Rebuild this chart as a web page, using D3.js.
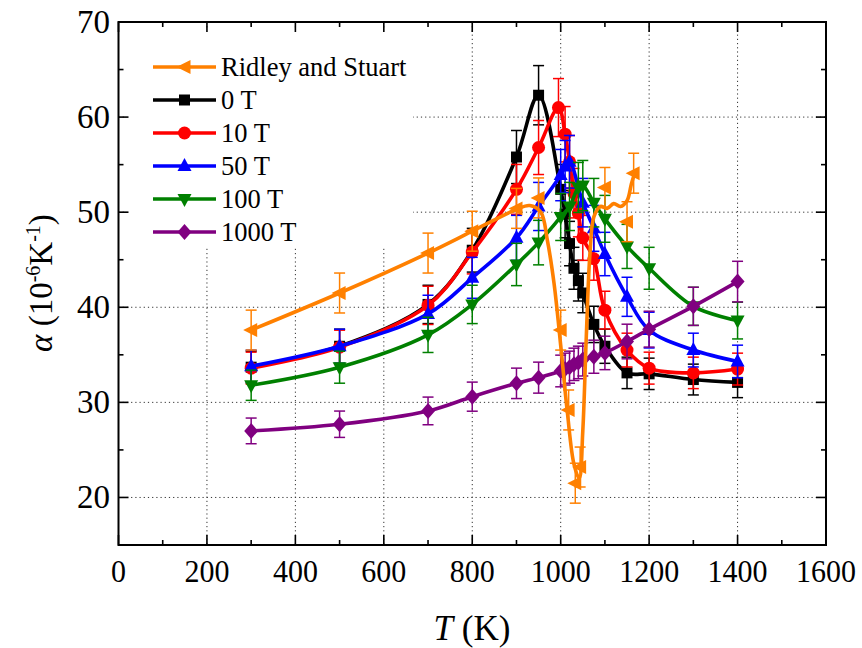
<!DOCTYPE html>
<html><head><meta charset="utf-8">
<script src="https://cdn.jsdelivr.net/npm/d3@7"></script>
<style>body{margin:0;background:#fff}svg{display:block}</style>
</head><body><svg id="c" width="862" height="648" font-family="'Liberation Serif', 'Times New Roman', Times, 'DejaVu Serif', serif"></svg>
<script>
// ---- data ----
const xTicks = [0,200,400,600,800,1000,1200,1400,1600];
const yTicks = [20,30,40,50,60,70];
const seriesNames = ["Ridley and Stuart","0 T","10 T","50 T","100 T","1000 T"];
const colors = ["#FF8000","#000000","#FF0000","#0000FF","#008000","#800080"];

const T0 = [300,500,700,800,900,950,1000,1010,1020,1030,1040,1050,1075,1100,1150,1200,1300,1400];
const V0 = [33.7,35.9,40.3,46.0,55.8,62.3,52.4,49.8,46.7,44.1,42.8,41.5,38.2,35.9,33.1,33.0,32.4,32.1];

const T10 = [300,500,700,800,900,950,995,1010,1020,1030,1040,1050,1075,1100,1150,1200,1300,1400];
const V10 = [33.6,35.8,40.2,45.8,52.4,56.8,61.0,58.2,55.3,52.0,49.9,47.3,45.1,39.7,35.5,33.6,33.1,33.5];

const T50 = [300,500,700,800,900,950,1000,1010,1020,1050,1075,1100,1150,1200,1300,1400];
const V50 = [33.8,35.9,39.3,43.1,47.3,50.6,53.9,54.8,55.3,51.0,48.3,45.6,41.1,37.6,35.5,34.3];

const T100 = [300,500,700,800,900,950,1000,1020,1040,1050,1075,1100,1150,1200,1300,1400];
const V100 = [31.8,33.7,37.1,40.3,44.5,46.8,49.5,50.6,52.6,52.8,51.0,49.3,46.4,44.1,40.1,38.6];

const T1000 = [300,500,700,800,900,950,1000,1010,1020,1030,1040,1050,1075,1100,1150,1200,1300,1400];
const V1000 = [27.0,27.7,29.1,30.6,32.0,32.6,33.3,33.5,33.7,34.0,34.2,34.5,34.8,35.2,36.4,37.7,40.1,42.7];

const TRS = [300,500,700,800,900,950,1000,1018,1033,1044,1100,1150,1165];
const VRS = [37.6,41.5,45.7,48.0,50.4,51.5,37.6,29.2,21.5,23.2,52.6,49.0,54.1];
const TRSline = [300,500,700,800,900,930,955,970,985,1000,1015,1030,1042,1050,1058,1066,1075,1090,1105,1120,1135,1150,1160,1168];
const VRSline = [37.6,41.5,45.7,48.0,50.3,50.7,50.0,47.0,42.5,36.0,29.0,23.5,22.0,27.0,37.0,45.5,49.5,50.6,50.4,50.9,50.6,51.2,53.0,54.2];

const relErr = 0.05;   // field-series error bars (fraction of value)
const rsErr = 2.1;      // Ridley & Stuart error bar half-height

// ---- layout ----
const svg = d3.select("#c");
const L = 118.5, R = 826, Tp = 22, B = 545;
const x = d3.scaleLinear().domain([0,1600]).range([L,R]);
const y = d3.scaleLinear().domain([15,70]).range([B,Tp]);

// grid
const gx = [200,400,600,800,1000,1200,1400], gy = [20,30,40,50,60];
svg.append("g").selectAll("line").data(gx).join("line")
  .attr("x1",d=>x(d)).attr("x2",d=>x(d)).attr("y1",Tp).attr("y2",B)
  .attr("stroke","#333").attr("stroke-width",1).attr("stroke-dasharray","1.2,3");
svg.append("g").selectAll("line").data(gy).join("line")
  .attr("y1",d=>y(d)).attr("y2",d=>y(d)).attr("x1",L).attr("x2",R)
  .attr("stroke","#333").attr("stroke-width",1).attr("stroke-dasharray","1.2,3");

// legend background (hides grid)
svg.append("rect").attr("x",125).attr("y",30).attr("width",288).attr("height",217).attr("fill","#fff");

// axes with inward ticks
const xMinor = d3.range(100,1600,200), yMinor = d3.range(25,70,10);
function axes(){
  const g = svg.append("g");
  g.append("rect").attr("x",L).attr("y",Tp).attr("width",R-L).attr("height",B-Tp)
    .attr("fill","none").attr("stroke","#000").attr("stroke-width",2);
  const tk = (x1,y1,x2,y2)=>g.append("line").attr("x1",x1).attr("y1",y1).attr("x2",x2).attr("y2",y2).attr("stroke","#000").attr("stroke-width",1.6);
  xTicks.forEach(t=>{tk(x(t),B,x(t),B-10);tk(x(t),Tp,x(t),Tp+10);});
  xMinor.forEach(t=>{tk(x(t),B,x(t),B-5);tk(x(t),Tp,x(t),Tp+5);});
  yTicks.forEach(t=>{tk(L,y(t),L+10,y(t));tk(R,y(t),R-10,y(t));});
  yMinor.forEach(t=>{tk(L,y(t),L+5,y(t));tk(R,y(t),R-5,y(t));});
  g.selectAll("text.xt").data(xTicks).join("text").attr("class","xt")
    .attr("x",d=>x(d)).attr("y",582).attr("text-anchor","middle")
    .attr("font-size",31).attr("textLength",d=>String(d).length*15).attr("lengthAdjust","spacingAndGlyphs")
    .text(d=>d);
  g.selectAll("text.yt").data(yTicks).join("text").attr("class","yt")
    .attr("x",110).attr("y",d=>y(d)+11).attr("text-anchor","end")
    .attr("font-size",33).text(d=>d);
}

// axis titles
const xt = svg.append("text").attr("x",472).attr("y",640).attr("text-anchor","middle").attr("font-size",35);
xt.append("tspan").attr("font-style","italic").text("T");
xt.append("tspan").text(" (K)");
const yt = svg.append("text").attr("transform","translate(52,283) rotate(-90)").attr("text-anchor","middle").attr("font-size",33);
yt.append("tspan").attr("font-style","italic").text("α");
yt.append("tspan").text(" (10");
yt.append("tspan").attr("font-size",20).attr("dy",-12).text("-6");
yt.append("tspan").attr("dy",12).text("K");
yt.append("tspan").attr("font-size",20).attr("dy",-12).text("-1");
yt.append("tspan").attr("dy",12).text(")");

// marker shapes
const shapes = {
  leftTri:"M-8,0L6,-7L6,7Z",
  square:"M-5.5,-5.5H5.5V5.5H-5.5Z",
  circle:"M-6.5,0A6.5,6.5 0 1,0 6.5,0A6.5,6.5 0 1,0 -6.5,0Z",
  upTri:"M0,-8L7,5L-7,5Z",
  downTri:"M0,8L7,-5L-7,-5Z",
  diamond:"M0,-8L7,0L0,8L-7,0Z"
};
const markerOf = ["leftTri","square","circle","upTri","downTri","diamond"];

const line = d3.line().x(d=>x(d[0])).y(d=>y(d[1])).curve(d3.curveCatmullRom.alpha(0.5));

function drawSeries(T,V,color,shape,errFn,lineT,lineV){
  const g = svg.append("g");
  const pts = T.map((t,i)=>[t,V[i]]);
  const lpts = lineT ? lineT.map((t,i)=>[t,lineV[i]]) : pts;
  g.append("path").attr("d",line(lpts)).attr("fill","none").attr("stroke",color).attr("stroke-width",3.6).attr("stroke-linejoin","round");
  const eb = g.append("g").attr("stroke",color).attr("stroke-width",1.5);
  pts.forEach(p=>{
    const e = errFn(p[1]);
    const cx = x(p[0]), y1 = y(p[1]-e), y2 = y(p[1]+e);
    eb.append("line").attr("x1",cx).attr("x2",cx).attr("y1",y1).attr("y2",y2);
    eb.append("line").attr("x1",cx-5.5).attr("x2",cx+5.5).attr("y1",y1).attr("y2",y1);
    eb.append("line").attr("x1",cx-5.5).attr("x2",cx+5.5).attr("y1",y2).attr("y2",y2);
  });
  g.selectAll("path.m").data(pts).join("path").attr("class","m")
    .attr("d",shapes[shape]).attr("transform",d=>`translate(${x(d[0])},${y(d[1])})`).attr("fill",color);
}

const fieldErr = v=>v*relErr;
drawSeries(T0,V0,colors[1],markerOf[1],fieldErr);
drawSeries(T10,V10,colors[2],markerOf[2],fieldErr);
drawSeries(T50,V50,colors[3],markerOf[3],fieldErr);
drawSeries(T100,V100,colors[4],markerOf[4],fieldErr);
drawSeries(T1000,V1000,colors[5],markerOf[5],fieldErr);
drawSeries(TRS,VRS,colors[0],markerOf[0],()=>rsErr,TRSline,VRSline);

axes();

// legend
const lg = svg.append("g");
seriesNames.forEach((n,i)=>{
  const yy = 67 + i*33;
  lg.append("line").attr("x1",153).attr("x2",216).attr("y1",yy).attr("y2",yy).attr("stroke",colors[i]).attr("stroke-width",3.6);
  lg.append("path").attr("d",shapes[markerOf[i]]).attr("transform",`translate(184.5,${yy})`).attr("fill",colors[i]);
  lg.append("text").attr("x",221).attr("y",yy+8.5).attr("font-size",26.5).text(n);
});
</script></body></html>
